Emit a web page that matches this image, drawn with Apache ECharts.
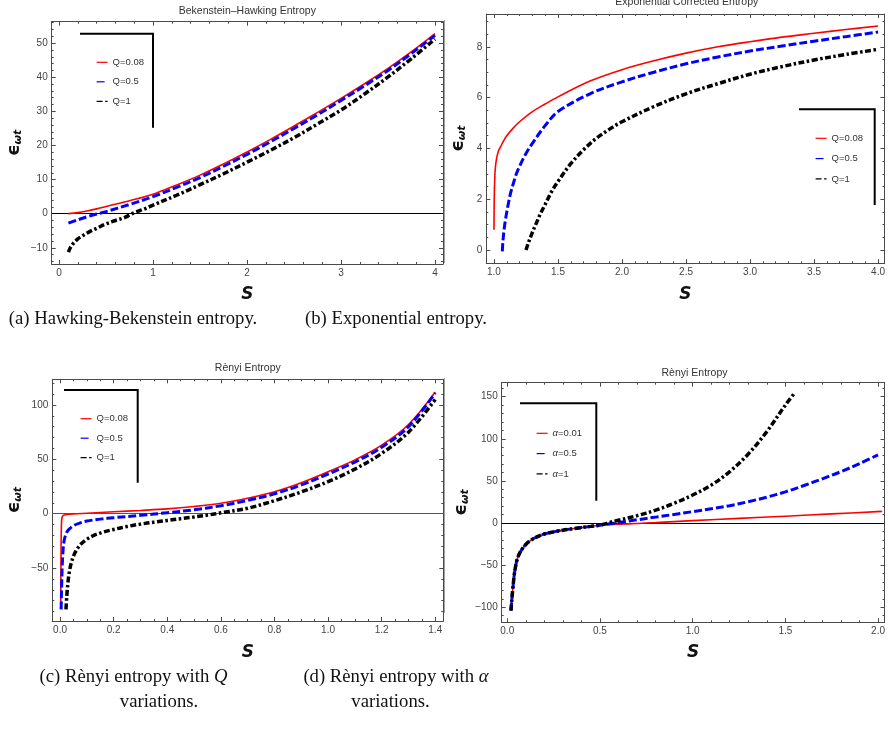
<!DOCTYPE html>
<html>
<head>
<meta charset="utf-8">
<script src="https://cdn.jsdelivr.net/npm/echarts@6/dist/echarts.min.js"></script>
<style>
  html, body { margin: 0; padding: 0; background: #fff; }
  #chart { width: 888px; height: 747px; }
</style>
</head>
<body>
<div id="chart"></div>
<script>
// ---- (a) Bekenstein–Hawking entropy ----
const aS = [0.1, 0.2, 0.3, 0.4, 0.5, 0.75, 1, 1.25, 1.5, 1.75, 2, 2.25, 2.5, 2.75, 3, 3.25, 3.5, 3.75, 4];
const aQ008 = [0, 0.3, 0.8, 1.4, 2.1, 3.8, 5.7, 8.4, 11.3, 14.6, 18.1, 21.8, 25.7, 29.7, 33.8, 38.1, 42.6, 47.5, 52.8];
const aQ05 = [-2.8, -1.8, -0.9, -0.1, 0.6, 2.7, 5.0, 7.7, 10.6, 13.9, 17.4, 21.1, 25.0, 29.0, 33.2, 37.5, 42.0, 47.0, 52.3];
const aS1 = [0.1, 0.12, 0.15, 0.2, 0.26, 0.33, 0.4, 0.5, 0.6, 0.7, 0.8, 0.9, 1, 1.25, 1.5, 1.75, 2, 2.25, 2.5, 2.75, 3, 3.25, 3.5, 3.75, 4];
const aQ1 = [-11.3, -10.0, -8.8, -7.4, -6.3, -5.2, -4.3, -3.0, -2.0, -1.1, 0.3, 1.3, 2.5, 5.4, 8.5, 11.7, 15.1, 18.6, 22.3, 26.3, 30.4, 35.1, 40.1, 45.5, 51.2];

// ---- (b) exponential corrected entropy ----
const bS008 = [1.0, 1.001, 1.003, 1.006, 1.01, 1.02, 1.035, 1.05, 1.075, 1.1, 1.15, 1.2, 1.3, 1.4, 1.5, 1.75, 2, 2.25, 2.5, 2.75, 3, 3.25, 3.5, 3.75, 4];
const bQ008 = [0.8, 1.6, 2.3, 2.8, 3.2, 3.6, 3.9, 4.05, 4.3, 4.5, 4.8, 5.05, 5.45, 5.75, 6.03, 6.65, 7.1, 7.45, 7.75, 8.0, 8.2, 8.38, 8.53, 8.68, 8.82];
const bS05 = [1.065, 1.07, 1.08, 1.09, 1.1, 1.115, 1.13, 1.15, 1.175, 1.2, 1.25, 1.3, 1.4, 1.5, 1.75, 2, 2.25, 2.5, 2.75, 3, 3.25, 3.5, 3.75, 4];
const bQ05 = [-0.05, 0.35, 0.85, 1.2, 1.5, 1.9, 2.25, 2.6, 3.0, 3.3, 3.8, 4.2, 4.9, 5.45, 6.15, 6.62, 7.0, 7.33, 7.6, 7.83, 8.03, 8.22, 8.4, 8.58];
const bS1 = [1.25, 1.27, 1.3, 1.33, 1.36, 1.4, 1.45, 1.5, 1.6, 1.7, 1.8, 1.9, 2, 2.25, 2.5, 2.75, 3, 3.25, 3.5, 3.75, 4];
const bQ1 = [0, 0.3, 0.7, 1.05, 1.4, 1.8, 2.3, 2.7, 3.4, 3.95, 4.4, 4.75, 5.05, 5.65, 6.15, 6.55, 6.92, 7.22, 7.48, 7.7, 7.9];

// ---- (c) Rènyi entropy, Q variations ----
const cS008 = [0.0025, 0.003, 0.0035, 0.004, 0.005, 0.006, 0.008, 0.012, 0.02, 0.05, 0.1, 0.2, 0.3, 0.4, 0.5, 0.6, 0.7, 0.8, 0.9, 1.0, 1.1, 1.2, 1.3, 1.4];
const cQ008 = [-88, -60, -38, -24, -11, -6, -3, -1.6, -1, -0.3, 0.4, 1.8, 3.0, 4.4, 6.6, 9.6, 14.2, 20.2, 28.5, 38.6, 49.5, 63, 82, 112];
const cS05 = [0.004, 0.005, 0.006, 0.008, 0.01, 0.012, 0.015, 0.02, 0.025, 0.035, 0.05, 0.075, 0.1, 0.15, 0.2, 0.3, 0.4, 0.5, 0.6, 0.7, 0.8, 0.9, 1.0, 1.1, 1.2, 1.3, 1.4];
const cQ05 = [-88, -75, -65, -48, -38, -31, -25, -20, -17, -14, -11, -8.5, -6.8, -5, -3.7, -1.5, 0.9, 3.6, 7.3, 12.2, 18.3, 26.5, 36.5, 47.5, 61, 80, 111];
const cS1 = [0.022, 0.025, 0.03, 0.035, 0.04, 0.05, 0.065, 0.08, 0.1, 0.13, 0.16, 0.2, 0.25, 0.3, 0.35, 0.4, 0.45, 0.5, 0.55, 0.6, 0.7, 0.8, 0.9, 1.0, 1.1, 1.2, 1.3, 1.4];
const cQ1 = [-88, -76, -62, -53, -47, -39, -32, -27.5, -23.5, -19.5, -17, -14.5, -11.8, -9.6, -7.8, -6.2, -4.6, -3.0, -1.3, 0.8, 5.0, 12.0, 20.0, 29.5, 41, 55.5, 75, 105];

// ---- (d) Rènyi entropy, α variations ----
// the three curves share the same branch up to S ≈ 0.5
const dHeadS = [0.02, 0.025, 0.03, 0.035, 0.04, 0.05, 0.06, 0.08, 0.1, 0.13, 0.16, 0.2, 0.25, 0.3, 0.35, 0.4, 0.45, 0.5];
const dHeadE = [-104, -90, -78, -67, -58, -46, -39, -31, -25.5, -20, -16.5, -13, -10.5, -8.5, -6.9, -5.4, -4, -2.6];
const dS001 = [0.6, 0.7, 0.8, 1.0, 1.25, 1.5, 1.75, 2.02];
const dA001 = [-1.5, -0.5, 0.5, 2.8, 5.5, 8.1, 10.8, 13.8];
const dS05 = [0.55, 0.6, 0.7, 0.8, 0.9, 1.0, 1.1, 1.2, 1.3, 1.4, 1.5, 1.6, 1.7, 1.8, 1.9, 2.0];
const dA05 = [-1.0, 0.6, 3.8, 7.0, 10.2, 13.5, 16.9, 20.6, 25.3, 30.7, 37, 44.5, 52.5, 61, 70.5, 81];
const dS1 = [0.55, 0.6, 0.7, 0.8, 0.9, 1.0, 1.1, 1.2, 1.3, 1.4, 1.5, 1.545];
const dA1 = [0.5, 3.3, 8.7, 15.2, 23.4, 33.2, 45, 61, 82, 108.5, 140, 153];

const qNames = ['Q=0.08', 'Q=0.5', 'Q=1'];
const aNames = ['α=0.01', 'α=0.5', 'α=1'];
const titles = ['Bekenstein–Hawking Entropy', 'Exponential Corrected Entropy', 'Rènyi Entropy', 'Rènyi Entropy'];

// ---------------------------------------------------------------
const SANS = 'Liberation Sans, Arial, sans-serif';
const FRAME = '#4a4a4a';
const RED = { color: '#ff0000', width: 1.6, type: 'solid' };
const BLUE = { color: '#0000ff', width: 3, type: [8, 3] };
const BLACK = { color: '#000000', width: 3.5, type: [6, 2.5, 2.5, 2.5] };

const panels = [
  { grid: { left: 51.7, top: 21.7, width: 391.3, height: 242.3 },
    x: { min: -0.078, max: 4.085, step: 1, minor: 5, dec: 0 },
    y: { min: -14.76, max: 56.3, step: 10, minor: 5, dec: 0 },
    yGap: 28, xGap: 22, zero: '#000', titleY: 12 },
  { grid: { left: 486.3, top: 14, width: 401, height: 249.3 },
    x: { min: 0.94, max: 4.05, step: 0.5, minor: 5, dec: 1 },
    y: { min: -0.52, max: 9.29, step: 2, minor: 4, dec: 0 },
    yGap: 19, xGap: 23, zero: null, titleY: 2.5 },
  { grid: { left: 52.3, top: 379.3, width: 391, height: 241.7 },
    x: { min: -0.029, max: 1.43, step: 0.2, minor: 4, dec: 1 },
    y: { min: -98.7, max: 123.6, step: 50, minor: 5, dec: 0 },
    yGap: 29, xGap: 23, zero: '#555', titleY: 369 },
  { grid: { left: 501.7, top: 382.7, width: 385.6, height: 239.6 },
    x: { min: -0.03, max: 2.035, step: 0.5, minor: 5, dec: 1 },
    y: { min: -117.9, max: 166.6, step: 50, minor: 5, dec: 0 },
    yGap: 31, xGap: 22, zero: '#000', titleY: 373.3 }
];

function tickFormatter(ax) {
  return function (v) {
    const k = v / ax.step;
    if (Math.abs(k - Math.round(k)) > 1e-6) return '';
    return v.toFixed(ax.dec).replace('-', '\u2212');
  };
}

function makeAxis(ax, pos, gi, labelled, extra) {
  return Object.assign({
    type: 'value', gridIndex: gi, position: pos,
    min: ax.min, max: ax.max, minInterval: ax.step, maxInterval: ax.step, splitNumber: 5,
    axisLine: { show: true, onZero: false, lineStyle: { color: FRAME, width: 1 } },
    axisTick: { show: true, inside: true, length: 4, lineStyle: { color: FRAME, width: 1 } },
    minorTick: { show: true, splitNumber: ax.minor, length: 2, lineStyle: { color: FRAME, width: 1 } },
    splitLine: { show: false }, minorSplitLine: { show: false },
    axisLabel: { show: labelled, fontFamily: SANS, fontSize: 10, color: '#444', margin: 4,
                 formatter: tickFormatter(ax) }
  }, extra || {});
}

const xAxes = [], yAxes = [], grids = [], titleOpts = [];
panels.forEach((p, gi) => {
  grids.push(p.grid);
  xAxes.push(makeAxis(p.x, 'bottom', gi, true, {
    name: 'S', nameLocation: 'middle', nameGap: p.xGap,
    nameTextStyle: { fontFamily: 'DejaVu Sans, sans-serif', fontSize: 17, fontWeight: 'bold', fontStyle: 'italic', color: '#111' }
  }));
  xAxes.push(makeAxis(p.x, 'top', gi, false));
  yAxes.push(makeAxis(p.y, 'left', gi, true, {
    name: '{e|\u03f5}{s|\u03c9t}', nameLocation: 'middle', nameGap: p.yGap, nameRotate: 90,
    nameTextStyle: { color: '#111', rich: {
      e: { fontFamily: 'DejaVu Sans, sans-serif', fontSize: 18, fontWeight: 'bold', color: '#111' },
      s: { fontFamily: 'DejaVu Sans, sans-serif', fontSize: 11, fontWeight: 'bold', fontStyle: 'italic', color: '#111', padding: [7, 0, 0, 0] }
    } }
  }));
  yAxes.push(makeAxis(p.y, 'right', gi, false));
  titleOpts.push({
    text: titles[gi], left: p.grid.left + p.grid.width / 2, top: p.titleY - 6, textAlign: 'center',
    padding: 0,
    textStyle: { fontFamily: SANS, fontSize: 10.5, fontWeight: 'normal', color: '#333' }
  });
});

function zip(xs, ys) { return xs.map((x, i) => [x, ys[i]]); }

function curve(name, gi, xs, ys, style) {
  return {
    type: 'line', name, xAxisIndex: gi * 2, yAxisIndex: gi * 2,
    data: zip(xs, ys), symbol: 'none', showSymbol: false,
    smooth: 0.35, clip: true, silent: true,
    lineStyle: style, itemStyle: { color: style.color }
  };
}

function zeroLine(color) {
  return {
    silent: true, symbol: ['none', 'none'], label: { show: false }, z: 1,
    lineStyle: { color: color, width: 1, type: 'solid' },
    data: [{ yAxis: 0 }], animation: false
  };
}

const series = [
  curve(qNames[0], 0, aS, aQ008, RED),
  curve(qNames[1], 0, aS, aQ05, BLUE),
  curve(qNames[2], 0, aS1, aQ1, BLACK),
  curve(qNames[0], 1, bS008, bQ008, RED),
  curve(qNames[1], 1, bS05, bQ05, BLUE),
  curve(qNames[2], 1, bS1, bQ1, BLACK),
  curve(qNames[0], 2, cS008, cQ008, RED),
  curve(qNames[1], 2, cS05, cQ05, BLUE),
  curve(qNames[2], 2, cS1, cQ1, BLACK),
  curve(aNames[0], 3, dHeadS.concat(dS001), dHeadE.concat(dA001), RED),
  curve(aNames[1], 3, dHeadS.concat(dS05), dHeadE.concat(dA05), BLUE),
  curve(aNames[2], 3, dHeadS.concat(dS1), dHeadE.concat(dA1), BLACK)
];
[0, 6, 9].forEach((si, k) => { series[si].markLine = zeroLine(panels[[0, 2, 3][k]].zero); });

function legendAt(left, firstCenter, spacing, names) {
  return {
    orient: 'vertical', left: left, top: firstCenter - 5, padding: 0,
    itemWidth: 11, itemHeight: 10, itemGap: spacing - 10, itemTextGap: 9,
    data: names, selectedMode: false,
    lineStyle: { width: 1.2 },
    itemStyle: { opacity: 0 },
    formatter: n => n.replace('α', '{i|α}'),
    textStyle: { fontFamily: SANS, fontSize: 9.5, color: '#333', lineHeight: 10,
                 rich: { i: { fontFamily: SANS, fontSize: 9.5, fontStyle: 'italic', color: '#333' } } }
  };
}

const legends = [
  legendAt(96, 62.3, 19.5, qNames),
  legendAt(815, 138.3, 20.3, qNames),
  legendAt(80, 418.7, 19.5, qNames),
  legendAt(536, 433.3, 20.3, aNames)
];

function bracket(pts) {
  return { type: 'polyline', silent: true, z: 10,
           shape: { points: pts }, style: { stroke: '#000', lineWidth: 2, fill: null } };
}
function caption(text, x, y) {
  return { type: 'text', silent: true, x: x, y: y,
           style: { text: text, align: 'center', verticalAlign: 'middle',
                    font: '18.7px "Liberation Serif", "Times New Roman", serif', fill: '#111',
                    rich: { m: { fontFamily: 'Liberation Serif, serif', fontSize: 18.7, fontStyle: 'italic', fill: '#111' } } } };
}

const graphics = [
  bracket([[80, 33.7], [153, 33.7], [153, 127.7]]),
  bracket([[799, 109.3], [874.7, 109.3], [874.7, 205]]),
  bracket([[64, 390], [137.7, 390], [137.7, 482.7]]),
  bracket([[520, 403.3], [596.3, 403.3], [596.3, 500.7]]),
  { type: 'line', silent: true, shape: { x1: 444.5, y1: 20, x2: 444.5, y2: 263 }, style: { stroke: '#a0a0a0', lineWidth: 1 } },
  { type: 'line', silent: true, shape: { x1: 444.5, y1: 378, x2: 444.5, y2: 613 }, style: { stroke: '#a0a0a0', lineWidth: 1 } },
  caption('(a) Hawking-Bekenstein entropy.', 133, 319),
  caption('(b) Exponential entropy.', 396, 319),
  caption('(c) Rènyi entropy with {m|Q}', 133.5, 677),
  caption('variations.', 159, 701.7),
  caption('(d) Rènyi entropy with {m|α}', 396, 677),
  caption('variations.', 390.5, 701.7)
];

const chart = echarts.init(document.getElementById('chart'), null, { renderer: 'canvas' });
chart.setOption({
  animation: false,
  backgroundColor: '#ffffff',
  title: titleOpts,
  grid: grids,
  xAxis: xAxes,
  yAxis: yAxes,
  legend: legends,
  series: series,
  graphic: graphics
});
</script>
</body>
</html>
